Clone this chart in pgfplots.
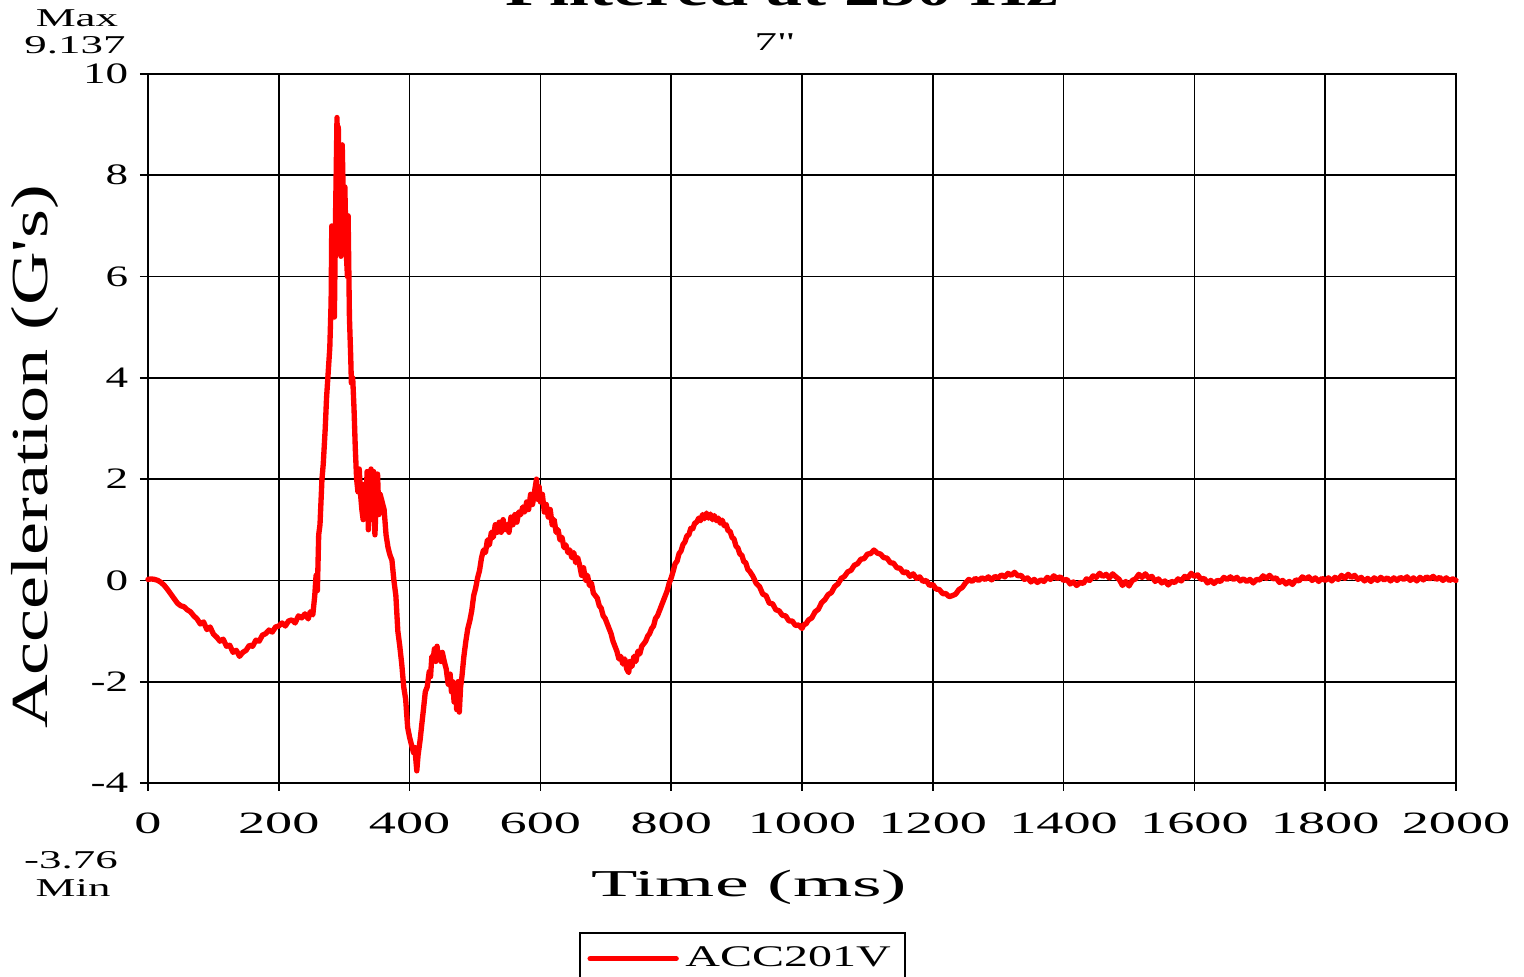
\documentclass[border=0pt]{standalone}
\usepackage{fontspec}
\setmainfont{Liberation Serif}
\newfontfamily\fXT[FakeStretch=1.75]{Liberation Serif}
\newfontfamily\fYT[FakeStretch=1.52]{Liberation Serif}
\newfontfamily\fXL[FakeStretch=2.0]{Liberation Serif}
\newfontfamily\fYL[FakeStretch=1.43]{Liberation Serif}
\newfontfamily\fSm[FakeStretch=1.75]{Liberation Serif}
\newfontfamily\fLg[FakeStretch=1.6]{Liberation Serif}
\newfontfamily\fTi[FakeStretch=1.5]{Liberation Serif}
\usepackage{pgfplots}
\pgfplotsset{compat=1.18}
\usepackage{pgfplotstable}
\pgfplotstableread{
t g
0 0.02
5 0.03
10 0.02
15 0.0
20 -0.04
25 -0.1
30 -0.18
35 -0.27
40 -0.36
45 -0.45
50 -0.5
55 -0.52
60 -0.58
65 -0.62
70 -0.7
75 -0.76
80 -0.86
85 -0.82
90 -0.97
95 -0.92
100 -1.06
105 -1.12
110 -1.2
115 -1.16
120 -1.3
125 -1.28
130 -1.42
135 -1.38
140 -1.5
145 -1.42
150 -1.38
155 -1.28
160 -1.3
165 -1.18
170 -1.2
175 -1.08
180 -1.05
185 -0.98
190 -1.02
195 -0.92
200 -0.9
205 -0.84
210 -0.9
215 -0.8
220 -0.78
225 -0.84
230 -0.7
235 -0.74
240 -0.66
245 -0.76
248 -0.62
252 -0.68
255 -0.3
257 0.1
259 -0.2
261 0.9
263 1.1
266 2.0
268 2.3
271 3.0
273 3.6
275 4.0
278 4.6
280 5.5
281 7.0
283 6.8
285 5.2
287 7.4
289 9.14
290 8.2
291 8.95
293 7.0
295 6.4
297 8.6
299 7.3
301 7.77
303 6.5
305 6.0
306 7.2
308 5.2
310 4.4
311 3.9
313 4.0
315 3.4
317 2.6
319 2.0
321 1.75
323 2.2
325 1.7
327 1.4
329 1.2
331 1.9
333 1.3
335 2.15
337 1.0
339 1.5
341 2.2
343 1.2
345 2.15
347 0.9
349 1.6
351 2.1
353 1.3
355 1.7
358 1.55
361 1.4
364 0.9
367 0.65
370 0.5
373 0.4
376 0.0
379 -0.3
382 -1.0
385 -1.3
388 -1.65
391 -2.1
394 -2.35
397 -2.9
400 -3.1
403 -3.25
406 -3.4
408 -3.3
411 -3.76
413 -3.45
416 -3.16
419 -2.8
421 -2.57
424 -2.2
427 -2.1
430 -1.8
432 -1.9
434 -1.5
436 -1.55
438 -1.35
440 -1.6
442 -1.3
444 -1.55
446 -1.45
448 -1.6
450 -1.42
453 -1.6
456 -1.75
459 -2.05
462 -1.85
464 -2.2
466 -2.0
468 -2.4
470 -2.1
472 -2.55
474 -2.0
476 -2.6
478 -2.1
480 -1.9
483 -1.5
486 -1.2
489 -0.95
492 -0.8
495 -0.6
498 -0.3
501 -0.15
504 0.05
507 0.2
510 0.45
513 0.6
516 0.55
519 0.8
522 0.7
525 0.95
528 0.85
531 1.1
534 0.95
537 1.15
540 0.95
543 1.2
546 1.0
549 1.1
552 0.95
555 1.25
558 1.1
561 1.3
564 1.15
567 1.35
570 1.3
573 1.45
576 1.35
579 1.55
582 1.4
585 1.7
588 1.5
591 1.75
594 2.0
596 1.6
598 1.85
600 1.55
603 1.7
606 1.35
609 1.5
612 1.25
615 1.4
618 1.1
621 1.2
624 0.95
627 1.0
630 0.8
633 0.85
636 0.65
639 0.7
642 0.55
645 0.6
648 0.45
651 0.55
654 0.35
657 0.45
660 0.3
663 0.1
666 0.25
669 0.0
672 0.1
675 -0.1
678 -0.05
681 -0.25
684 -0.3
687 -0.35
690 -0.5
693 -0.55
696 -0.7
699 -0.75
702 -0.85
705 -0.95
708 -1.05
711 -1.2
714 -1.3
717 -1.4
720 -1.55
723 -1.5
726 -1.65
729 -1.55
732 -1.75
735 -1.82
737 -1.6
740 -1.7
743 -1.5
746 -1.6
749 -1.4
752 -1.45
755 -1.3
758 -1.25
761 -1.2
764 -1.1
767 -1.05
770 -0.95
773 -0.9
776 -0.75
779 -0.7
782 -0.6
785 -0.5
788 -0.4
791 -0.3
794 -0.2
797 -0.05
800 0.05
803 0.18
806 0.33
809 0.38
812 0.53
815 0.58
818 0.71
821 0.76
824 0.88
827 0.9
830 1.03
833 1.02
836 1.13
839 1.15
842 1.23
845 1.18
848 1.3
851 1.22
854 1.33
857 1.23
860 1.31
863 1.2
866 1.28
869 1.18
872 1.23
875 1.13
878 1.19
881 1.08
884 1.1
887 0.98
890 0.97
893 0.85
896 0.82
899 0.68
902 0.64
905 0.52
908 0.5
911 0.37
914 0.35
917 0.22
920 0.18
925 0.08
930 -0.06
935 -0.12
940 -0.27
945 -0.3
950 -0.45
955 -0.46
960 -0.58
965 -0.6
970 -0.69
975 -0.7
980 -0.8
985 -0.8
990 -0.89
995 -0.88
1000 -0.95
1003 -0.87
1006 -0.86
1010 -0.78
1015 -0.74
1020 -0.62
1025 -0.57
1030 -0.44
1035 -0.38
1040 -0.28
1045 -0.24
1050 -0.12
1055 -0.07
1060 0.04
1065 0.08
1070 0.17
1075 0.2
1080 0.3
1085 0.33
1090 0.42
1095 0.43
1100 0.52
1105 0.53
1110 0.6
1115 0.54
1120 0.52
1125 0.45
1130 0.44
1135 0.35
1140 0.34
1145 0.25
1150 0.24
1155 0.15
1160 0.17
1165 0.08
1170 0.13
1175 0.04
1180 0.07
1185 -0.02
1190 0.0
1195 -0.1
1200 -0.08
1205 -0.17
1210 -0.18
1215 -0.26
1220 -0.26
1225 -0.32
1230 -0.3
1235 -0.27
1240 -0.18
1245 -0.14
1250 -0.05
1255 0.02
1260 -0.02
1265 0.04
1270 0.0
1275 0.05
1280 0.02
1285 0.07
1290 0.01
1295 0.08
1300 0.05
1305 0.11
1310 0.07
1315 0.14
1320 0.1
1325 0.16
1330 0.09
1335 0.1
1340 0.02
1345 0.05
1350 -0.03
1355 0.02
1360 -0.04
1365 0.01
1370 -0.02
1375 0.06
1380 0.02
1385 0.09
1390 0.04
1395 0.07
1400 0.0
1405 0.02
1410 -0.07
1415 -0.03
1420 -0.1
1425 -0.04
1430 -0.06
1435 0.03
1440 0.0
1445 0.09
1450 0.06
1455 0.14
1460 0.08
1465 0.12
1470 0.05
1475 0.13
1480 0.07
1485 0.02
1490 -0.1
1495 -0.02
1500 -0.11
1505 0.0
1510 0.03
1515 0.12
1520 0.06
1525 0.13
1530 0.05
1535 0.08
1540 -0.02
1545 0.03
1550 -0.05
1555 -0.01
1560 -0.09
1565 -0.02
1570 -0.04
1575 0.03
1580 -0.01
1585 0.08
1590 0.05
1595 0.14
1600 0.08
1605 0.11
1610 0.02
1615 0.04
1620 -0.05
1625 0.0
1630 -0.06
1635 0.0
1640 -0.02
1645 0.06
1650 0.02
1655 0.07
1660 0.02
1665 0.06
1670 -0.01
1675 0.03
1680 -0.02
1685 0.02
1690 -0.05
1695 0.02
1700 0.01
1705 0.09
1710 0.04
1715 0.1
1720 0.03
1725 0.05
1730 -0.04
1735 0.0
1740 -0.07
1745 -0.02
1750 -0.08
1755 0.01
1760 -0.01
1765 0.07
1770 0.03
1775 0.07
1780 0.0
1785 0.05
1790 -0.02
1795 0.04
1800 0.0
1805 0.05
1810 -0.01
1815 0.06
1820 0.02
1825 0.1
1830 0.04
1835 0.12
1840 0.06
1845 0.1
1850 0.02
1855 0.06
1860 -0.01
1865 0.04
1870 -0.02
1875 0.05
1880 0.0
1885 0.06
1890 0.01
1895 0.05
1900 -0.01
1905 0.05
1910 0.0
1915 0.06
1920 0.02
1925 0.07
1930 0.0
1935 0.05
1940 -0.01
1945 0.06
1950 0.01
1955 0.07
1960 0.03
1965 0.08
1970 0.02
1975 0.06
1980 0.0
1985 0.05
1990 0.0
1995 0.03
2000 0.0
}\accdata
\begin{document}
\begin{tikzpicture}
\begin{axis}[
  name=ax,
  scale only axis,
  width=392.4pt, height=212.7pt,
  xmin=0, xmax=2000, ymin=-4, ymax=10,
  xtick={0,200,...,2000},
  ytick={-4,-2,...,10},
  /pgf/number format/1000 sep={},
  /pgf/number format/assume math mode=true,
  tick pos=left,
  tick align=outside,
  major tick length=2.4pt,
  tick style={black, line width=0.5pt},
  axis line style={black, line width=0.6pt},
  grid=major,
  major grid style={black, line width=0.5pt},
  xticklabel style={font=\fontsize{9.3}{10}\fXT, yshift=-3pt},
  yticklabel style={font=\fontsize{8.9}{10}\fYT},
  legend style={at={(0.3295,-0.2102)}, anchor=north west, draw=black, line width=0.5pt,
    font=\fontsize{9}{10}\fLg, inner xsep=2.3pt, inner ysep=2pt,
    /tikz/every even column/.append style={column sep=0pt}},
  legend image code/.code={\draw[#1] (0pt,0pt) -- (25.8pt,0pt);},
  clip=false,
]
\addplot[color=red, line width=1.6pt, line join=round, line cap=round] table[x=t, y=g] {\accdata};
\addlegendentry{ACC201V\rule[-5pt]{0pt}{1pt}}
\node[anchor=base, font=\fontsize{11.4}{12}\fXL] at (axis description cs:0.4595,-0.1608) {Time (ms)};
\node[anchor=base, rotate=90, font=\fontsize{15.6}{17}\fYL] at (axis description cs:-0.0765,0.4598) {Acceleration (G's)};
\node[anchor=base, font=\fontsize{7.7}{8}\fSm] at (axis description cs:-0.0543,1.0663) {Max};
\node[anchor=base, font=\fontsize{7.7}{8}\fSm] at (axis description cs:-0.0558,1.0282) {9.137};
\node[anchor=base, font=\fontsize{7.7}{8}\fSm] at (axis description cs:-0.0589,-0.1199) {-3.76};
\node[anchor=base, font=\fontsize{7.7}{8}\fSm] at (axis description cs:-0.0573,-0.1594) {Min};
\node[anchor=base, font=\fontsize{7.7}{8}\fSm] at (axis description cs:0.4794,1.0338) {7"};
\node[anchor=base, font=\fontsize{14.4}{15}\bfseries\fTi] at (axis description cs:0.4847,1.0959) {Filtered at 250 Hz};
\end{axis}
\pgfresetboundingbox
\path[use as bounding box] ([xshift=-44.4pt, yshift=-58.2pt]ax.south west) rectangle ([xshift=20.4pt, yshift=22.2pt]ax.north east);
\end{tikzpicture}
\end{document}
